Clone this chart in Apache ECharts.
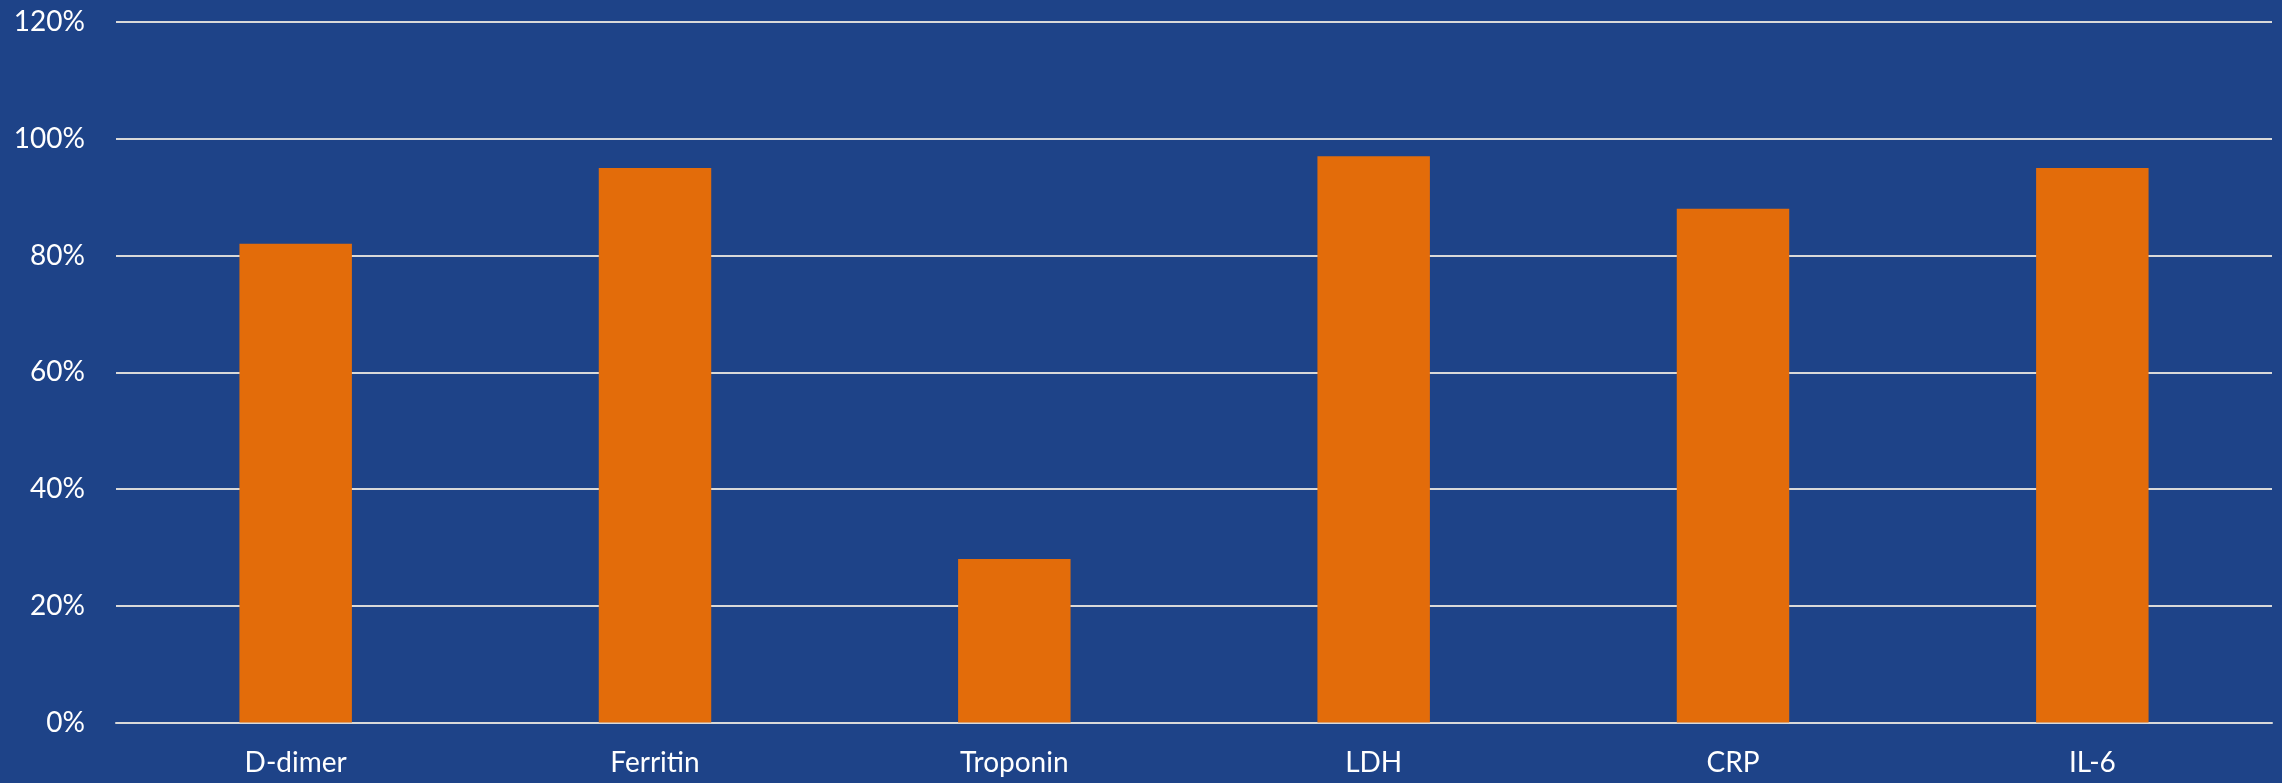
<!DOCTYPE html>
<html>
<head>
<meta charset="utf-8">
<style>
  html, body { margin: 0; padding: 0; background: #1E4388; }
  #chart { width: 2282px; height: 783px; }
</style>
<script src="https://cdn.jsdelivr.net/npm/echarts@6/dist/echarts.min.js"></script>
</head>
<body>
<div id="chart"></div>
<script>
// Biomarker categories and share of patients with elevated levels (%)
const categories = ['D-dimer', 'Ferritin', 'Troponin', 'LDH', 'CRP', 'IL-6'];
const elevatedPct = [82, 95, 28, 97, 88, 95];
const yTicks = { min: 0, max: 120, interval: 20 };

const chart = echarts.init(document.getElementById('chart'));
chart.setOption({
  backgroundColor: '#1E4388',
  animation: false,
  textStyle: { fontFamily: 'Lato, "Open Sans", sans-serif' },
  grid: { left: 116, right: 10, top: 22, bottom: 60.5, containLabel: false },
  xAxis: {
    type: 'category',
    data: categories,
    axisLine: { show: true, lineStyle: { color: '#D9D9D9', width: 2 } },
    axisTick: { show: false },
    axisLabel: { color: '#FFFFFF', fontSize: 28, margin: 26, fontFamily: 'Lato' }
  },
  yAxis: {
    type: 'value',
    min: yTicks.min,
    max: yTicks.max,
    interval: yTicks.interval,
    axisLine: { show: false },
    axisTick: { show: false },
    axisLabel: { color: '#FFFFFF', fontSize: 28, margin: 31, fontFamily: 'Lato', formatter: '{value}%' },
    splitLine: { lineStyle: { color: '#D9D9D9', width: 2 } }
  },
  series: [{
    type: 'bar',
    data: elevatedPct,
    barWidth: '31.3%',
    itemStyle: { color: '#E36C0A' }
  }]
});
</script>
</body>
</html>
